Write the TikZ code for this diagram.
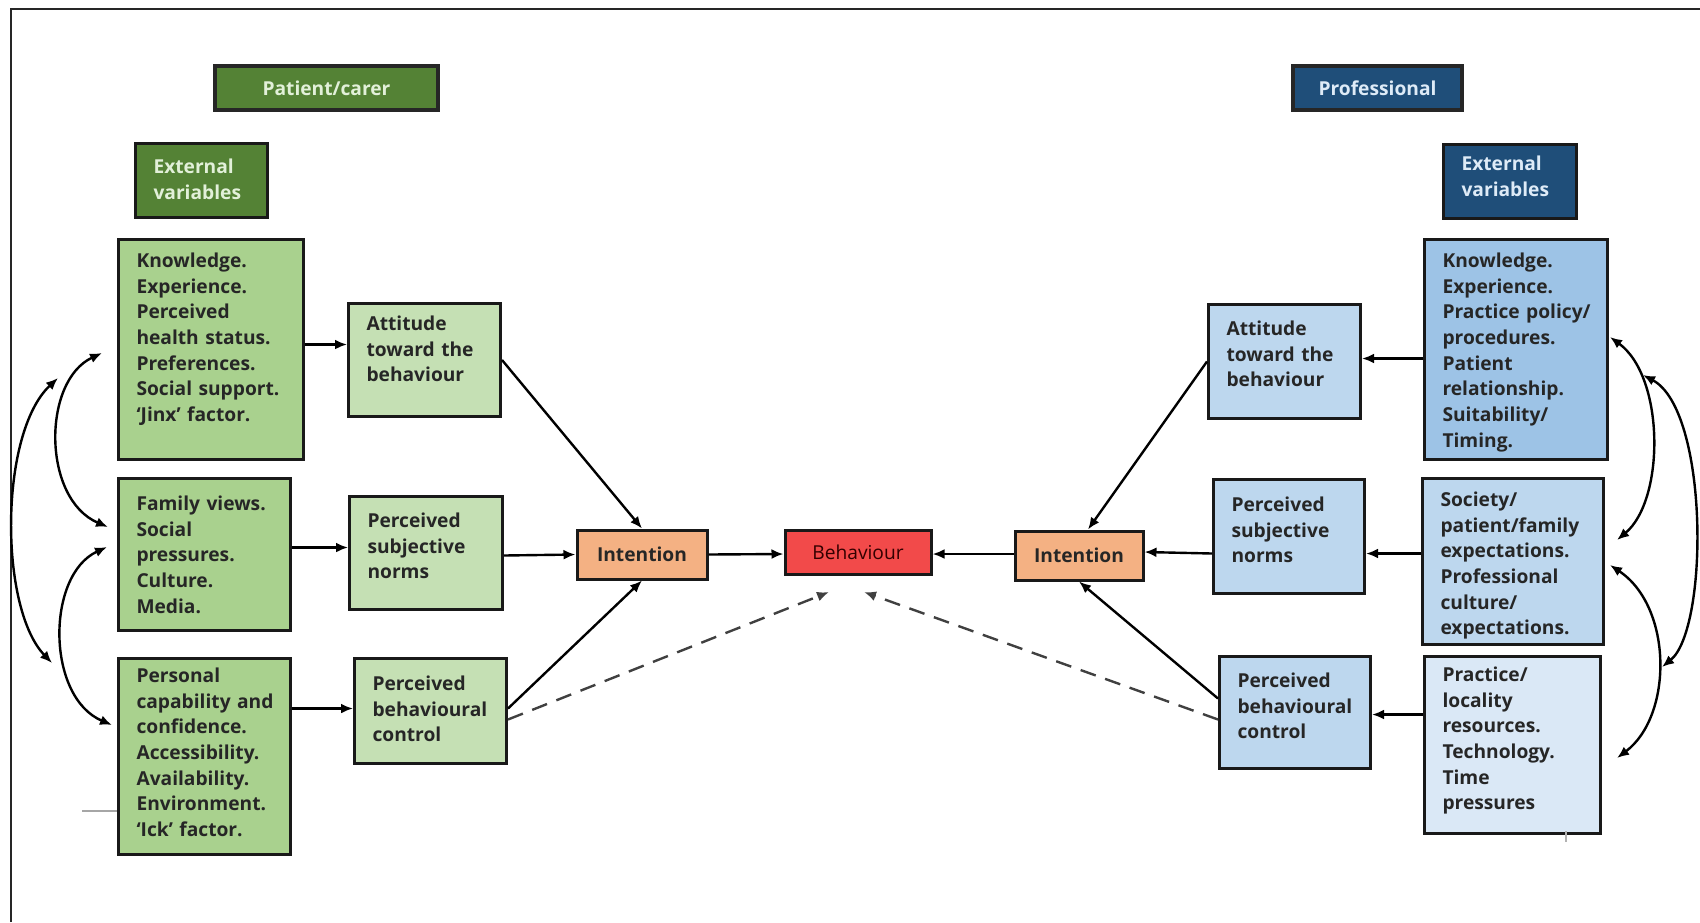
\documentclass[tikz,border=0pt]{standalone}
\usepackage{fontspec}
\setmainfont{Open Sans}
\usetikzlibrary{arrows.meta}

\definecolor{pcdark}{HTML}{548235}
\definecolor{pctext}{HTML}{E2F0D9}
\definecolor{pcmid}{HTML}{A9D18E}
\definecolor{pclight}{HTML}{C5E0B4}
\definecolor{prdark}{HTML}{1F4E79}
\definecolor{prtext}{HTML}{DEEBF7}
\definecolor{prmid}{HTML}{9DC3E6}
\definecolor{prlight}{HTML}{BDD7EE}
\definecolor{prpale}{HTML}{DAE8F6}
\definecolor{intfill}{HTML}{F4B183}
\definecolor{behfill}{HTML}{F24A4A}

\begin{document}
\begin{tikzpicture}[x=0.5pt, y=-0.5pt,
        font=\fontsize{9.6}{12.83}\selectfont\bfseries,
        hdr/.style={draw=black!85, line width=1.6pt, minimum height=22pt},
        txt/.style={draw=black!90, line width=1.5pt, anchor=north west, align=left, inner xsep=9pt, inner ysep=0pt, text=black!85,
            execute at begin node={\rightskip=-14pt plus 1fil\hyphenpenalty=10000}},
        mid/.style={draw=black!90, line width=1.5pt, minimum height=24.5pt, text=black!85},
        line/.style={draw, -{Latex[length=6pt,width=5pt]}, line width=1.2pt},
        dline/.style={line, dash pattern=on 8pt off 5pt, draw=black!75},
        corr/.style={draw, {Latex[length=6pt,width=5pt]}-{Latex[length=6pt,width=5pt]}, line width=1.2pt}]

    \useasboundingbox (0,0) rectangle (1700,922);
    \draw[black!85, line width=0.7pt] (11,922) -- (11,9) -- (1700,9);

    % patient / carer side
    \node[hdr, fill=pcdark, text=pctext, minimum width=111.5pt] (pc) at (326.5,88) {Patient/carer};
    \node[txt, fill=pcdark, text=pctext, text width=48pt, text height=15pt, text depth=22pt] (extL) at (134,142) {External\\variables};
    \node[txt, fill=pcmid, text width=74.5pt, text height=14pt, text depth=96pt] (knowL) at (117,238)
        {Knowledge.\\Experience.\\Perceived\\health status.\\Preferences.\\Social support.\\`Jinx' factor.};
    \node[txt, fill=pcmid, text width=68pt, text height=16pt, text depth=60pt] (famL) at (117,477)
        {Family views.\\Social\\pressures.\\Culture.\\Media.};
    \node[txt, fill=pcmid, text width=68pt, text height=12pt, text depth=86pt] (perL) at (117,657)
        {Personal\\capability and\\confidence.\\Accessibility.\\Availability.\\Environment.\\`Ick' factor.};
    \node[txt, fill=pclight, text width=58pt, text height=13.5pt, text depth=43pt] (attL) at (347,302)
        {Attitude\\toward the\\behaviour};
    \node[txt, fill=pclight, text width=58.5pt, text height=15.5pt, text depth=41pt] (psnL) at (348,495)
        {Perceived\\subjective\\norms};
    \node[txt, fill=pclight, text width=58pt, text height=16pt, text depth=36.5pt] (pbcL) at (353,657)
        {Perceived\\behavioural\\control};

    % centre
    \node[mid, fill=intfill, minimum width=65pt] (intL) at (642,554.5) {Intention};
    \node[mid, fill=behfill, minimum width=73pt, minimum height=22pt, font=\fontsize{9.6}{12.83}\selectfont\mdseries, text=black!80!red] (beh) at (858,552) {Behaviour};
    \node[mid, fill=intfill, minimum width=64pt] (intR) at (1079,555.5) {Intention};

    % professional side
    \node[hdr, fill=prdark, text=prtext, minimum width=84.5pt] (pro) at (1377.5,88) {Professional};
    \node[txt, fill=prdark, text=prtext, text width=48.5pt, text height=13pt, text depth=24pt] (extR) at (1442,143) {External\\variables};
    \node[txt, fill=prmid, text width=73.5pt, text height=14pt, text depth=96pt] (knowR) at (1423,238)
        {Knowledge.\\Experience.\\Practice policy/\\procedures.\\Patient\\relationship.\\Suitability/\\Timing.};
    \node[txt, fill=prlight, text width=72.5pt, text height=14pt, text depth=69pt] (socR) at (1421,477)
        {Society/\\patient/family\\expectations.\\Professional\\culture/\\expectations.};
    \node[txt, fill=prpale, text width=70pt, text height=12.5pt, text depth=76pt] (pracR) at (1423,655)
        {Practice/\\locality\\resources.\\Technology.\\Time\\pressures};
    \node[txt, fill=prlight, text width=58pt, text height=15.5pt, text depth=41.5pt] (attR) at (1207,303)
        {Attitude\\toward the\\behaviour};
    \node[txt, fill=prlight, text width=57.5pt, text height=16pt, text depth=41pt] (psnR) at (1212,478)
        {Perceived\\subjective\\norms};
    \node[txt, fill=prlight, text width=57.5pt, text height=15.5pt, text depth=40.5pt] (pbcR) at (1218,655)
        {Perceived\\behavioural\\control};

    \coordinate (dL) at (829,592);
    \coordinate (dR) at (864,592);

    % left connectors
    \draw[line] ([yshift=2.5pt]knowL.east) -- ([yshift=7.75pt]attL.west);
    \draw[line] ([yshift=3.5pt]famL.east) -- ([yshift=2.75pt]psnL.west);
    \draw[line] ([yshift=24pt]perL.east) -- ([yshift=1.25pt]pbcL.west);
    \draw[line] (attL.east) -- (intL.north);
    \draw[line] ([yshift=-1.25pt]psnL.east) -- (intL.west);
    \draw[line] ([yshift=1.25pt]pbcL.east) -- (intL.south);
    \draw[dline] ([yshift=-4.25pt]pbcL.east) -- (dL);
    \draw[line] (intL.east) -- ([yshift=-1pt]beh.west);

    % right connectors
    \draw[line] ([yshift=-4.5pt]knowR.west) -- ([yshift=1.5pt]attR.east);
    \draw[line] ([yshift=4pt]socR.west) -- ([yshift=-8.5pt]psnR.east);
    \draw[line] ([yshift=15.25pt]pracR.west) -- ([yshift=-1pt]pbcR.east);
    \draw[line] (attR.west) -- ([xshift=4.5pt]intR.north);
    \draw[line] ([yshift=-8.5pt]psnR.west) -- ([yshift=1.75pt]intR.east);
    \draw[line] ([yshift=7pt]pbcR.west) -- (intR.south);
    \draw[dline] ([yshift=-3.5pt]pbcR.west) -- (dR);
    \draw[line] ([yshift=0.75pt]intR.west) -- ([yshift=-1pt]beh.east);

    % correlations between external variables
    \coordinate (lk1) at (58,378);   \coordinate (lp1) at (52,663);
    \coordinate (lk2) at (102,353);  \coordinate (lf2) at (108,527);
    \coordinate (lf3) at (107,547);  \coordinate (lp3) at (112,725);
    \draw[corr] (lk1) .. controls (-1,433) and (-1,608) .. (lp1);
    \draw[corr] (lk2) .. controls (42,381) and (42,499) .. (lf2);
    \draw[corr] (lf3) .. controls (46,575) and (46,697) .. (lp3);
    \coordinate (rk1) at (1610,337); \coordinate (rs1) at (1617,540);
    \coordinate (rk2) at (1643,375); \coordinate (rp2) at (1662,667);
    \coordinate (rs3) at (1610,565); \coordinate (rp3) at (1617,758);
    \draw[corr] (rk1) .. controls (1665,377) and (1665,500) .. (rs1);
    \draw[corr] (rk2) .. controls (1709,410) and (1709,629) .. (rp2);
    \draw[corr] (rs3) .. controls (1673,607) and (1673,716) .. (rp3);

    % leftover marks
    \draw[black!35, line width=0.6pt] (82,811) -- (perL.west |- 0,811);
    \draw[black!30, line width=0.6pt] (1566,831) -- (1566,842);
\end{tikzpicture}
\end{document}
